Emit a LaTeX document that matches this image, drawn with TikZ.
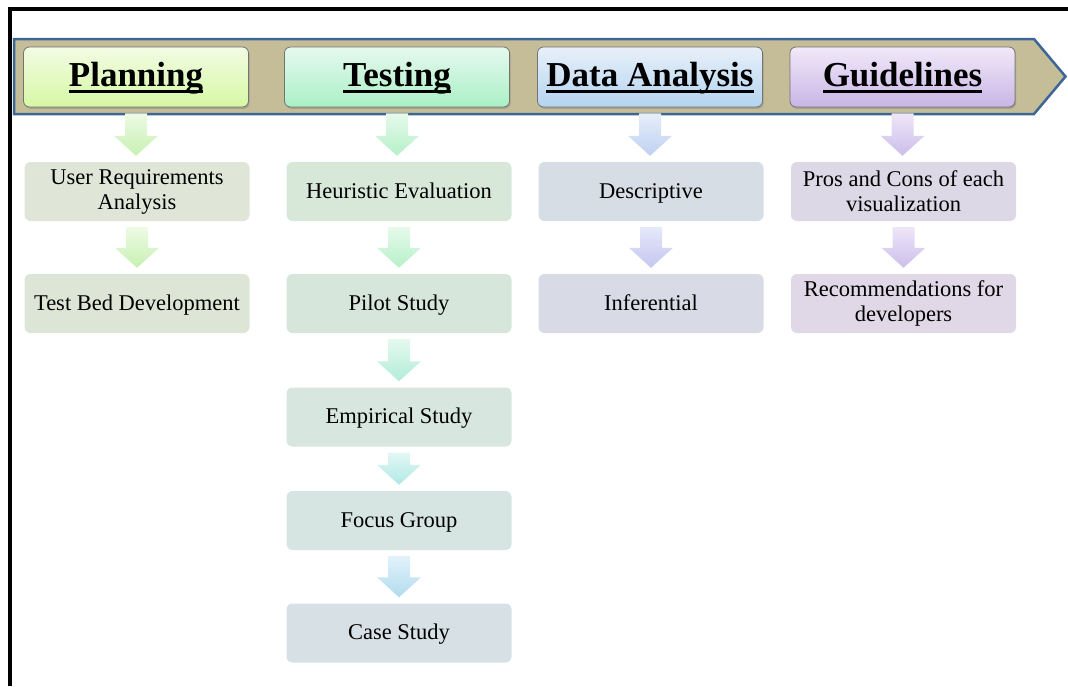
\documentclass[tikz,border=0pt]{standalone}
\usepackage{fontspec}
\setmainfont{Liberation Serif}
\usetikzlibrary{shadows,calc}
\definecolor{bannerfill}{HTML}{C5BD97}
\definecolor{bannerline}{HTML}{3D6596}
\definecolor{hpT}{HTML}{F2FCE4}\definecolor{hpB}{HTML}{D6F8A4}
\definecolor{htT}{HTML}{E6F9EE}\definecolor{htB}{HTML}{AAF0C6}
\definecolor{hdT}{HTML}{E8F0F9}\definecolor{hdB}{HTML}{B4D4F0}
\definecolor{hgT}{HTML}{F1E9F9}\definecolor{hgB}{HTML}{C9B5E6}
\definecolor{sp1}{HTML}{DFE6D8}\definecolor{sp2}{HTML}{DDE6D6}
\definecolor{st1}{HTML}{D8E8D8}\definecolor{st2}{HTML}{D6E6DA}
\definecolor{st3}{HTML}{D7E6DE}\definecolor{st4}{HTML}{D7E5E2}
\definecolor{st5}{HTML}{D6E0E5}
\definecolor{sd1}{HTML}{D6DDE5}\definecolor{sd2}{HTML}{D8DAE6}
\definecolor{sg1}{HTML}{DCD8E6}\definecolor{sg2}{HTML}{E0D8E6}
\definecolor{apT}{HTML}{EEFBE4}\definecolor{apB}{HTML}{C6F0B2}
\definecolor{atT}{HTML}{E6FAEC}\definecolor{atB}{HTML}{B6F0C8}
\definecolor{amT}{HTML}{E4F9F0}\definecolor{amB}{HTML}{B2ECD8}
\definecolor{acT}{HTML}{E2F8F6}\definecolor{acB}{HTML}{B0E8E4}
\definecolor{alT}{HTML}{E2F2FA}\definecolor{alB}{HTML}{B2DCEE}
\definecolor{adT}{HTML}{E6EEFA}\definecolor{adB}{HTML}{C0D0F0}
\definecolor{aeT}{HTML}{E6E8FA}\definecolor{aeB}{HTML}{C4C6F0}
\definecolor{agT}{HTML}{EEE6F8}\definecolor{agB}{HTML}{CCBEEA}
\newsavebox\hdbox
\newcommand{\hul}[1]{\sbox\hdbox{#1}\rlap{\rule[-7pt]{\wd\hdbox}{3pt}}\usebox\hdbox}
\newcommand{\dnarrow}[4]{%
  \path[top color=#3,bottom color=#4] let \p1=(#1.south), \p2=(#2.north) in
    (\x1-11,\y1-6) -- (\x1+11,\y1-6) -- (\x1+11,\y2+26) -- (\x1+22,\y2+26)
    -- (\x1,\y2+6) -- (\x1-22,\y2+26) -- (\x1-11,\y2+26) -- cycle;}
\tikzset{
  hdr/.style={rounded corners=6pt, draw=black!55, line width=0.8pt,
    minimum width=225pt, minimum height=60pt, text height=24pt, text depth=6pt,
    font=\fontsize{35}{40}\selectfont\bfseries,
    drop shadow={shadow xshift=1.2pt, shadow yshift=-1.8pt, opacity=0.45}},
  sub/.style={rounded corners=6pt, minimum width=225pt, minimum height=59pt,
    inner sep=0pt, font=\fontsize{22.5}{25}\selectfont},
  one/.style={sub, text height=17pt, text depth=4pt},
  two/.style={sub, align=center},
}
\begin{document}
\begin{tikzpicture}[x=1pt,y=-1pt]
\useasboundingbox (0,0) rectangle (1068,686);
% frame
\draw[line width=3.4pt] (10,686) -- (10,8.8) -- (1068,8.8);
% banner
\draw[fill=bannerfill, draw=bannerline, line width=2.5pt, line join=miter]
  (14,39) -- (1034,39) -- (1065.5,76.5) -- (1034,114) -- (14,114) -- cycle;
% headers
\node[hdr, top color=hpT, bottom color=hpB] (hPlan) at (136,77) {\hul{Planning}};
\node[hdr, top color=htT, bottom color=htB] (hTest) at (397,77) {\hul{Testing}};
\node[hdr, top color=hdT, bottom color=hdB] (hData) at (650,77) {\hul{Data Analysis}};
\node[hdr, top color=hgT, bottom color=hgB] (hGuide) at (902.5,77) {\hul{Guidelines}};
% sub boxes
\node[two, fill=sp1] (p1) at (137,191.5) {User Requirements\\Analysis};
\node[one, fill=sp2] (p2) at (137,303.5) {Test Bed Development};
\node[one, fill=st1] (t1) at (399,191.5) {Heuristic Evaluation};
\node[one, fill=st2] (t2) at (399,303.5) {Pilot Study};
\node[one, fill=st3] (t3) at (399,417) {Empirical Study};
\node[one, fill=st4] (t4) at (399,520.5) {Focus Group};
\node[one, fill=st5] (t5) at (399,633) {Case Study};
\node[one, fill=sd1] (d1) at (651,191.5) {Descriptive};
\node[one, fill=sd2] (d2) at (651,303.5) {Inferential};
\node[two, fill=sg1] (g1) at (903.5,191.5) {Pros and Cons of each\\visualization};
\node[two, fill=sg2] (g2) at (903.5,303.5) {Recommendations for\\developers};
% arrows
\dnarrow{hPlan}{p1}{apT}{apB}
\dnarrow{p1}{p2}{apT}{apB}
\dnarrow{hTest}{t1}{atT}{atB}
\dnarrow{t1}{t2}{atT}{atB}
\dnarrow{t2}{t3}{amT}{amB}
\dnarrow{t3}{t4}{acT}{acB}
\dnarrow{t4}{t5}{alT}{alB}
\dnarrow{hData}{d1}{adT}{adB}
\dnarrow{d1}{d2}{aeT}{aeB}
\dnarrow{hGuide}{g1}{agT}{agB}
\dnarrow{g1}{g2}{agT}{agB}
\end{tikzpicture}
\end{document}
